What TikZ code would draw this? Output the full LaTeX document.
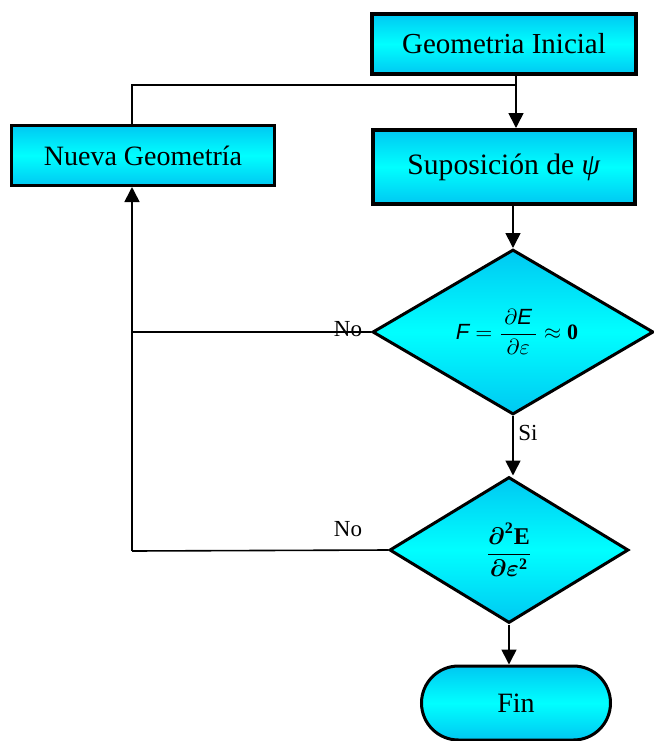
\documentclass[tikz,border=0pt]{standalone}
\usepackage{amsmath}
\usepackage{fontspec}
\setmainfont{Liberation Serif}
\setsansfont{Liberation Sans}
\usetikzlibrary{arrows.meta, positioning, shapes.geometric, shapes.misc}
\definecolor{cyanedge}{RGB}{0,200,242}
\definecolor{cyanmid}{RGB}{0,255,255}
\newcommand{\forceF}{\kern4pt$\text{\sffamily\itshape F} = \dfrac{\,\partial\text{\sffamily\itshape E}\,}{\partial\varepsilon}\approx\textbf{0}$}
\newcommand{\curvE}{$\dfrac{\boldsymbol{\partial}^{\mathbf{2}}\mathbf{E}}{\boldsymbol{\partial}\boldsymbol{\varepsilon}^{\mathbf{2}}}$}
\tikzset{
  cyanfill/.style={top color=cyanedge, bottom color=cyanedge, middle color=cyanmid},
  procbox/.style={rectangle, draw=black, cyanfill, inner sep=0pt, line width=2pt,
    font=\fontsize{14.8}{18}\selectfont},
  decbox/.style={diamond, aspect=1.7, draw=black, cyanfill, inner sep=0pt, line width=1.5pt},
  endbox/.style={rounded rectangle, draw=black, cyanfill, inner sep=0pt, line width=1.5pt,
    font=\fontsize{14}{17}\selectfont},
  flow/.style={-{Triangle[length=7.5pt,width=7.5pt]}, line width=0.8pt},
  link/.style={line width=0.8pt},
  lbl/.style={inner sep=0pt, font=\fontsize{11.5}{13}\selectfont}
}

\begin{document}
\begin{tikzpicture}[x=0.5pt, y=-0.5pt]
  \useasboundingbox (0,0) rectangle (654,741);
  % boxes
  \node[procbox, minimum width=132pt, minimum height=30pt,
    font=\fontsize{14.5}{17}\selectfont] (init) at (504,44) {Geometria Inicial};
  \node[procbox, line width=1.5pt, minimum width=131.5pt, minimum height=30pt,
    font=\fontsize{14}{17}\selectfont] (nueva) at (143,155.5) {Nueva Geometría};
  \node[procbox, minimum width=131pt, minimum height=37pt] (supos) at (504,167) {Suposición de \textit{ψ}};
  \node[decbox, minimum width=140.5pt, minimum height=82.5pt, font=\fontsize{11}{13}\selectfont] (dOne) at (513,332) {\forceF};
  \node[decbox, minimum width=119.5pt, minimum height=73pt, font=\fontsize{12}{14}\selectfont] (dTwo) at (509,550) {\curvE};
  \node[endbox, minimum width=94.5pt, minimum height=37pt] (fin) at (516,703) {Fin};
  % joints of the loop
  \coordinate (jn) at (516,85);
  \coordinate (lp) at (132,551);
  % connectors
  \draw[flow] (init.south -| jn) -- (supos.north -| jn);
  \draw[link] (nueva.north -| lp) |- (jn);
  \draw[flow] (supos.south -| dOne.north) -- (dOne.north);
  \draw[flow] (dOne.south) -- (dOne.south |- dTwo.north);
  \draw[flow] (dTwo.south) -- (dTwo.south |- fin.north);
  \draw[link] (dOne.west) -- (dOne.west -| lp);
  \draw[link] (dTwo.west) -- (lp);
  \draw[flow] (lp) -- (lp |- nueva.south);
  % labels
  \node[lbl] (noOne) at (348,329) {No};
  \node[lbl] (noTwo) at (348,529) {No};
  \node[lbl] (siOne) at (528,433) {Si};
\end{tikzpicture}
\end{document}
